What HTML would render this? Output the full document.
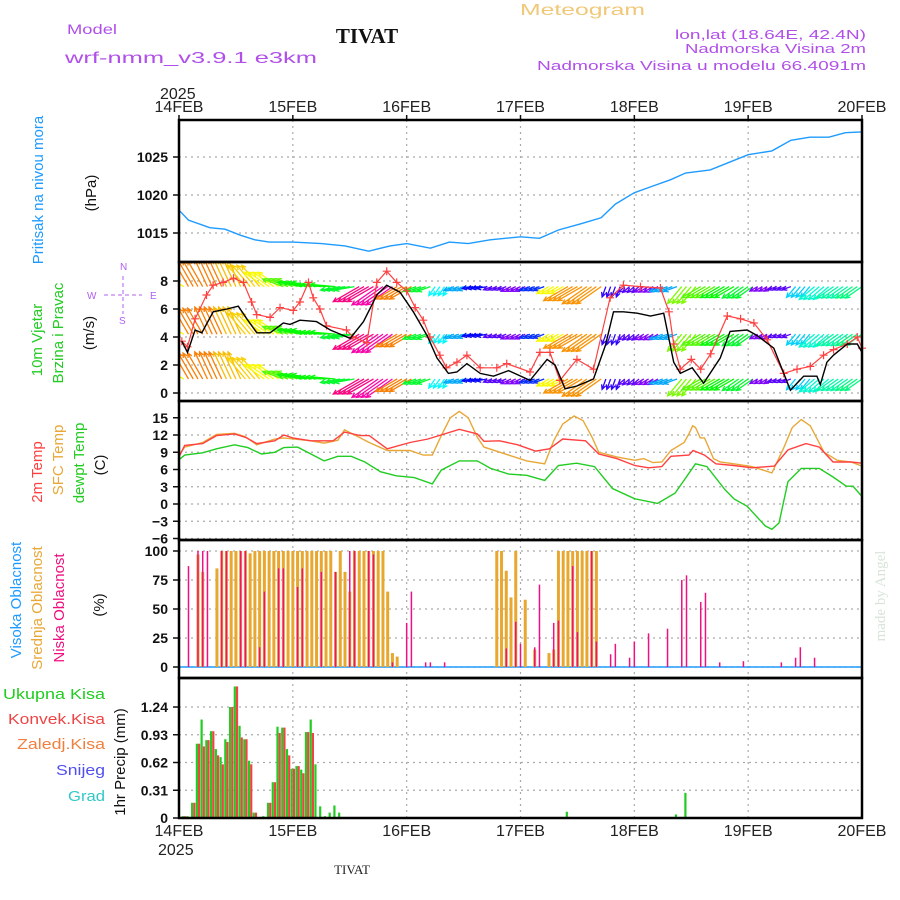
<!DOCTYPE html>
<html><head><meta charset="utf-8">
<style>
html,body{margin:0;padding:0;background:#fff;}
svg{display:block;font-family:"Liberation Sans",sans-serif;}
</style></head>
<body>
<svg id="chart" width="900" height="900" viewBox="0 0 900 900" xmlns="http://www.w3.org/2000/svg">
<rect width="900" height="900" fill="#fff"/>
<text x="520" y="15" font-size="16" fill="#f0c878" textLength="125" lengthAdjust="spacingAndGlyphs">Meteogram</text>
<text x="67" y="34" font-size="14" fill="#b050e8" textLength="50" lengthAdjust="spacingAndGlyphs">Model</text>
<text x="367" y="43" font-size="21" font-weight="bold" font-family="Liberation Serif,serif" fill="#111" text-anchor="middle">TIVAT</text>
<text x="65" y="63" font-size="16" fill="#b050e8" textLength="252" lengthAdjust="spacingAndGlyphs">wrf-nmm_v3.9.1 e3km</text>
<text x="675" y="39" font-size="13" fill="#b050e8" textLength="191" lengthAdjust="spacingAndGlyphs">lon,lat (18.64E, 42.4N)</text>
<text x="685" y="53" font-size="13" fill="#b050e8" textLength="181" lengthAdjust="spacingAndGlyphs">Nadmorska Visina 2m</text>
<text x="537" y="70" font-size="13" fill="#b050e8" textLength="329" lengthAdjust="spacingAndGlyphs">Nadmorska Visina u modelu 66.4091m</text>
<text x="160" y="99" font-size="16" fill="#222">2025</text>
<text x="158" y="855" font-size="16" fill="#222">2025</text>
<text x="352" y="874" font-size="13" font-family="Liberation Serif,serif" fill="#222" text-anchor="middle">TIVAT</text>
<text transform="translate(885,596) rotate(-90)" font-size="15" font-family="Liberation Serif,serif" fill="#d8e4d8" text-anchor="middle">made by Angel</text>

<g font-size="15">
<text transform="translate(43,190) rotate(-90)" fill="#1e9bff" text-anchor="middle">Pritisak na nivou mora</text>
<text transform="translate(96,193) rotate(-90)" fill="#111" text-anchor="middle">(hPa)</text>
<text transform="translate(42,340) rotate(-90)" fill="#22cc22" text-anchor="middle">10m Vjetar</text>
<text transform="translate(63,333) rotate(-90)" fill="#22cc22" text-anchor="middle">Brzina i Pravac</text>
<text transform="translate(94,333) rotate(-90)" fill="#111" text-anchor="middle">(m/s)</text>
<text transform="translate(42,472) rotate(-90)" fill="#ff4040" text-anchor="middle">2m Temp</text>
<text transform="translate(63,460) rotate(-90)" fill="#e8a838" text-anchor="middle">SFC Temp</text>
<text transform="translate(84,463) rotate(-90)" fill="#22cc22" text-anchor="middle">dewpt Temp</text>
<text transform="translate(105,465) rotate(-90)" fill="#111" text-anchor="middle">(C)</text>
<text transform="translate(21,600) rotate(-90)" fill="#1e9bff" text-anchor="middle">Visoka Oblacnost</text>
<text transform="translate(42,608) rotate(-90)" fill="#e8a838" text-anchor="middle">Srednja Oblacnost</text>
<text transform="translate(64,608) rotate(-90)" fill="#f01080" text-anchor="middle">Niska Oblacnost</text>
<text transform="translate(104,605) rotate(-90)" fill="#111" text-anchor="middle">(%)</text>
<text transform="translate(125,762) rotate(-90)" fill="#111" text-anchor="middle">1hr Precip (mm)</text>
<text x="3" y="699" fill="#22cc22" textLength="102" lengthAdjust="spacingAndGlyphs">Ukupna Kisa</text>
<text x="8" y="724" fill="#ee4444" textLength="97" lengthAdjust="spacingAndGlyphs">Konvek.Kisa</text>
<text x="17" y="749" fill="#f08040" textLength="88" lengthAdjust="spacingAndGlyphs">Zaledj.Kisa</text>
<text x="56" y="775" fill="#5050ee" textLength="49" lengthAdjust="spacingAndGlyphs">Snijeg</text>
<text x="68" y="801" fill="#30c8c8" textLength="37" lengthAdjust="spacingAndGlyphs">Grad</text>
</g>
<g fill="#b060f0" stroke="#b060f0" font-size="10">
<text x="87" y="299" stroke="none">W</text>
<text x="150" y="299" stroke="none">E</text>
<text x="120" y="270" stroke="none">N</text>
<text x="119" y="324" stroke="none">S</text>
<line x1="104" y1="295" x2="142" y2="295" stroke-dasharray="4,3"/>
<line x1="123" y1="276" x2="123" y2="314" stroke-dasharray="4,3"/>
</g>
<g id="plot"></g>
</svg>
<script>
// ---------- data ----------
const dayLabels = ["14FEB","15FEB","16FEB","17FEB","18FEB","19FEB","20FEB"];
const presTicks = [1015,1020,1025];
const windTicks = [0,2,4,6,8];
const tempTicks = [-6,-3,0,3,6,9,12,15];
const cloudTicks = [0,25,50,75,100];
const precTicks = [0,0.31,0.62,0.93,1.24];

const presH = [0,2,6.5,9.7,13,16,19,24,30,35,40,44.5,48,53,57,61,65.6,72,76,80,84.6,89,92,96,100,103.6,106.8,112,116,120,125,129,133,137,140.5,144];
const presV = [1018.0,1016.7,1015.7,1015.5,1014.7,1014.1,1013.8,1013.8,1013.6,1013.3,1012.6,1013.3,1013.6,1013.0,1013.8,1013.6,1014.1,1014.5,1014.3,1015.4,1016.2,1017.0,1018.8,1020.3,1021.2,1022.0,1022.9,1023.3,1024.3,1025.3,1025.8,1027.2,1027.6,1027.6,1028.2,1028.3];

const spdH = [0.6,1.8,3.4,4.8,7.2,10.1,12.5,14.3,16.4,19.2,22,23.4,25.5,29,31.9,36.1,38.9,41.7,43.8,46.6,49.4,52.3,54.4,56.8,58.6,60.7,63.5,66.3,69.5,74,77.6,79.3,81.4,83.9,87.4,89.9,91.6,93.7,96.6,99.4,102.2,104.3,105.7,108.2,110.6,114.1,116.2,119.8,121.9,125.4,128.9,131.7,134.5,135.2,136.6,138,140.9,143,144];
const spdV = [3.7,2.9,4.5,4.3,5.8,6.0,6.2,5.3,4.3,4.3,5.0,4.9,5.2,5.1,4.5,3.9,5.1,7.0,7.7,7.2,5.8,4.1,2.5,1.4,1.5,2.1,1.4,1.2,1.6,0.9,2.4,2.0,0.3,0.5,1.0,3.4,5.8,5.8,5.7,5.5,5.7,2.2,1.4,1.8,0.7,2.5,4.4,4.5,4.1,3.2,0.2,1.2,1.2,0.6,2.2,2.7,3.5,3.5,2.9];
const gustH = [0.6,1.8,3.4,5.8,7.2,9.3,11.5,13.6,15.3,16.4,19.2,21.3,24.1,25.5,27.3,28.3,29.7,31.1,35.3,36.7,39.6,41.7,43.8,45.9,48,49.8,51.5,52.9,55,56.4,58.6,60.7,63.5,67,69.1,74,76.1,78.2,80.3,83.9,87.4,90.9,93.7,97.3,101.5,103.3,104.3,105.7,108,110,112.1,115.6,118.4,121.2,124,127.5,130.3,133.1,135.9,138,140.9,143,144];
const gustV = [3.7,3.3,5.3,7.0,7.7,7.9,8.2,7.9,6.5,5.6,5.4,6.1,5.9,6.5,7.9,6.8,6.0,4.8,4.5,4.0,3.6,7.9,8.7,7.9,7.3,6.1,5.2,4.0,2.7,1.8,2.2,2.7,1.8,1.8,2.1,1.5,2.9,2.9,0.9,2.4,1.7,6.8,7.7,7.6,7.5,5.8,3.5,1.7,2.4,1.7,2.8,5.5,5.3,5.0,3.8,1.4,1.7,1.9,2.7,3.1,3.5,4.0,3.2];

const arrowH = [0,4,8,12,16,20,24,28,32,36,40,44,48,52,56,60,64,68,72,76,80,84,88,92,96,100,104,108,112,116,120,124,128,132,136,140,144];
const arrowAng = [150,120,115,115,130,145,160,170,175,190,210,215,210,200,235,200,190,200,205,200,210,210,215,250,220,210,200,230,210,210,215,210,200,230,220,215,215];
const arrowLen = [25,30,30,30,28,25,22,25,25,20,30,32,25,14,11,11,11,9,11,11,14,28,30,11,9,11,14,22,22,22,20,9,9,14,20,20,20];
const arrowHue = [60,30,30,45,50,60,100,120,120,130,330,320,30,130,180,200,240,260,270,230,60,35,35,250,260,270,200,90,100,120,130,270,260,190,170,160,150];
const arrowRows = [1.0,4.2,7.6];

const t2H = [0,1.2,5.0,7.9,11.7,14.0,16.4,20.2,22.1,24.0,27.8,32.5,34.9,38.2,40.1,43.9,48.7,52.5,59.1,62.9,64.3,67.6,71.4,75.2,78.1,80.9,85.7,88.5,92.3,96.1,99.0,101.8,103.7,107.5,108.4,110.8,113.2,117.0,120.8,125.5,128.4,132.2,135.0,137.9,141.7,144];
const t2V = [8.2,10.2,10.5,11.9,12.2,11.6,10.5,11.0,12.0,11.5,11.0,11.0,12.5,11.9,11.9,9.6,10.7,11.3,13.0,12.2,10.9,11.0,10.3,9.2,9.6,11.3,11.0,8.7,7.9,6.7,6.3,6.5,8.3,8.5,9.3,8.5,7.0,6.7,6.3,6.6,9.4,10.5,9.9,7.3,7.3,7.1];
const sfcH = [0,1.2,5.0,7.9,11.7,14.0,16.4,20.2,22.1,27.8,30.6,33.5,34.9,37.3,40.1,43.9,48.7,51.5,53.4,55.3,57.2,59.1,61.0,62.9,64.3,69.5,73.3,77.1,79.0,80.9,83.3,85.2,87.1,88.5,92.3,96.1,98.0,99.9,101.8,103.7,106.5,107.5,108.3,108.9,109.9,110.8,112.7,114.1,117.0,120.8,125.0,127.4,129.3,131.2,133.1,136.0,138.8,141.7,144];
const sfcV = [8.5,9.9,10.7,12.1,12.3,11.7,10.3,11.3,11.5,11.0,10.6,11.1,12.9,11.9,10.7,9.3,9.3,8.5,8.5,11.9,15.0,16.1,15.0,11.6,9.9,8.5,7.5,7.0,11.0,13.9,15.3,14.5,11.6,9.0,8.2,7.6,7.9,7.2,7.3,9.3,10.7,12.2,13.6,13.3,11.5,11.5,7.9,7.3,7.0,6.5,5.4,9.6,13.3,14.7,13.6,9.0,7.6,7.3,6.6];
const dewH = [0,1.2,5.0,7.9,11.7,14.5,17.4,20.2,22.1,25.0,27.8,30.6,33.5,36.3,39.2,42.5,45.8,49.6,53.4,55.3,59.1,62.9,65.7,69.5,73.3,77.1,80.0,83.8,87.6,91.4,96.1,100.9,104.6,108.9,111.3,115.1,117.0,119.8,123.6,125.0,126.5,128.4,131.2,135.0,137.9,140.7,142.1,144];
const dewV = [7.7,8.5,8.9,9.6,10.3,9.8,8.7,9.0,9.8,9.9,8.7,7.5,8.3,8.3,7.3,5.6,4.9,4.6,3.5,5.9,7.5,7.5,6.2,5.2,5.0,4.1,6.7,7.1,6.5,2.7,0.9,0.1,1.9,7.0,6.5,2.5,0.9,-0.4,-3.8,-4.4,-3.3,3.9,6.2,6.2,4.7,3.1,3.1,1.3];

const midH = [4,5,8,9,10,11,12,13,14,15,16,17,18,19,20,21,22,23,24,25,26,27,28,29,30,31,32,33,34,35,36,37,38,39,40,41,42,43,44,45,46,67,68,69,70,71,73,75,78,79,80,81,82,83,84,85,86,87,88];
const midV = [97,82,85,100,100,100,100,100,100,98,100,100,100,100,100,100,100,100,100,100,100,100,100,100,100,100,100,82,100,82,65,100,100,100,100,100,100,100,65,12,9,100,100,83,60,100,58,15,12,15,100,100,100,100,100,100,100,100,100];
const lowH = [2,4,5,6,9,10,13,14,17,18,21,22,25,26,30,33,36,37,40,41,45,48,49,52,53,56,69,71,72,75,76,79,80,83,84,87,88,91,92,95,96,99,103,106,107,110,111,114,119,127,130,131,134];
const lowV = [87,100,100,100,100,100,100,100,17,65,85,85,69,85,82,82,100,100,100,97,4,38,65,4,4,4,16,39,20,17,71,38,40,87,30,100,22,11,20,8,22,29,33,75,79,56,64,4,5,4,8,17,8];

const precH = [1,2,3,4,5,6,7,8,9,10,11,12,13,14,15,16,18,19,20,21,22,23,24,25,26,27,28,29,30,31,32,33,34,82,105,106,107,108];
const precTot = [0.02,0.02,0.17,0.83,1.1,0.87,0.97,0.77,0.68,0.88,1.24,1.47,1.03,0.88,0.64,0.06,0.02,0.17,0.4,1.02,1.01,0.77,0.55,0.58,0.54,0.96,1.1,0.6,0.13,0.02,0.06,0.14,0.06,0.07,0.04,0.01,0.28,0.01];
const precConv = [0.02,0,0.17,0.83,0.8,0.87,0.97,0.7,0.6,0.85,1.24,1.47,0.9,0.88,0.6,0.06,0,0.17,0.4,0.95,1.01,0.7,0.55,0.58,0.5,0.96,0.95,0,0,0,0,0,0,0,0,0,0,0];

// ---------- scales ----------
const X0=179, X1=862, HOURS=144;
const xs = h => X0 + h*(X1-X0)/HOURS;
const yP = v => 157 + (1025-v)*7.6;
const yW = v => 393 - v*14;
const yT = v => 504 - v*5.75;
const yC = v => 667 - v*1.16;
const yR = v => 818 - v*89.5;
const panels = [[120,262],[262,401],[401,540],[540,678],[678,818]];

const NS="http://www.w3.org/2000/svg";
const plot=document.getElementById('plot');
function mk(tag,attrs,parent){const e=document.createElementNS(NS,tag);for(const k in attrs)e.setAttribute(k,attrs[k]);(parent||plot).appendChild(e);return e;}
function path(H,V,fx,fy){return H.map((h,i)=>(i?'L':'M')+xs(h).toFixed(1)+','+fy(V[i]).toFixed(1)).join('');}

// grid
const grid=mk('g',{});


for(let d=1;d<6;d++){
  const l=mk('line',{x1:xs(d*24),x2:xs(d*24),y1:120,y2:818,stroke:'#aaa','stroke-dasharray':'2,4','stroke-width':1.2},grid);
  
  
}
function hgrid(ticks,fy,fmt){
  ticks.forEach(t=>{
    const l=mk('line',{x1:X0,x2:X1,y1:fy(t),y2:fy(t),stroke:'#aaa','stroke-dasharray':'2,4','stroke-width':1.2},grid);
    
    
    const tx=mk('text',{x:168,y:fy(t)+5,'font-size':14,'text-anchor':'end',fill:'#111','font-weight':'bold'});
    tx.textContent=fmt?fmt(t):String(t);
    
    
    const tk=mk('line',{x1:X0-6,x2:X0,y1:fy(t),y2:fy(t),stroke:'#111','stroke-width':1.5});
    
    
  });
}
hgrid(presTicks,yP);
hgrid(windTicks,yW);
hgrid(tempTicks,yT,t=>t<0?'\u2212'+(-t):String(t));
hgrid(cloudTicks,yC);
hgrid(precTicks,yR,t=>t===0?'0':t.toFixed(2));

// day labels
dayLabels.forEach((d,i)=>{
  [112,836].forEach(y=>{
    const t=mk('text',{x:xs(i*24),y:y,'font-size':16,'text-anchor':'middle',fill:'#222'});
    t.textContent=d;
    
    
  });
  const tk=mk('line',{x1:xs(i*24),x2:xs(i*24),y1:115,y2:120,stroke:'#111','stroke-width':1.5});
  
  
});

// pressure
const pl=mk('path',{d:path(presH,presV,xs,yP),fill:'none',stroke:'#1e9bff','stroke-width':1.4});



// wind arrows
const arrG=mk('g',{});


for(let h=0;h<=HOURS;h++){
  const i=Math.min(arrowH.length-1,Math.round(h/4));
  const a=arrowAng[i]*Math.PI/180, L=arrowLen[i], col='hsl('+arrowHue[i]+',95%,50%)';
  arrowRows.forEach(r=>{
    const x0=xs(h), y0=yW(r);
    const x1=x0+L*Math.cos(a), y1=y0-L*Math.sin(a);
    const hx1=x1-5*Math.cos(a-0.45), hy1=y1+5*Math.sin(a-0.45);
    const hx2=x1-5*Math.cos(a+0.45), hy2=y1+5*Math.sin(a+0.45);
    const ar=mk('path',{d:`M${x0},${y0}L${x1},${y1}M${hx1},${hy1}L${x1},${y1}L${hx2},${hy2}`,stroke:col,'stroke-width':1.3,fill:'none'},arrG);
    
    
  });
}
const clip=mk('clipPath',{id:'wclip'});
mk('rect',{x:X0,y:262,width:X1-X0,height:139},clip);
arrG.setAttribute('clip-path','url(#wclip)');

// gust & speed
const gl=mk('path',{d:path(gustH,gustV,xs,yW),fill:'none',stroke:'#ff4040','stroke-width':1.2});


gustH.forEach((h,i)=>{
  const x=xs(h),y=yW(gustV[i]);
  const m=mk('path',{d:`M${x-4},${y}h8M${x},${y-4}v8`,stroke:'#ff4040','stroke-width':1.2});
  
  
});
const sl=mk('path',{d:path(spdH,spdV,xs,yW),fill:'none',stroke:'#000','stroke-width':1.4});



// temperature
[[sfcH,sfcV,'#e8a838','sfc-temp-line'],[t2H,t2V,'#ff4040','temp-2m-line'],[dewH,dewV,'#22cc22','dewpoint-line']].forEach(s=>{
  const p=mk('path',{d:path(s[0],s[1],xs,yT),fill:'none',stroke:s[2],'stroke-width':1.4});
  
  
});

// cloud
const hl=mk('line',{x1:X0,x2:X1,y1:yC(0),y2:yC(0),stroke:'#1e9bff','stroke-width':1.5});


midH.forEach((h,i)=>{
  const r=mk('rect',{x:xs(h)-1.5,y:yC(midV[i]),width:3,height:yC(0)-yC(midV[i]),fill:'#e8a830'});
  
  
});
lowH.forEach((h,i)=>{
  const r=mk('rect',{x:xs(h)-0.75,y:yC(lowV[i]),width:1.5,height:yC(0)-yC(lowV[i]),fill:'#f01080'});
  
  
});

// precip
precH.forEach((h,i)=>{
  const g=mk('rect',{x:xs(h)-2.2,y:yR(precTot[i]),width:2.2,height:yR(0)-yR(precTot[i]),fill:'#22cc22'});
  
  
  if(precConv[i]>0){
    const r=mk('rect',{x:xs(h),y:yR(precConv[i]),width:2.2,height:yR(0)-yR(precConv[i]),fill:'#ee4444'});
    
    
  }
});

// panel frames
panels.forEach(p=>{
  const r=mk('rect',{x:X0,y:p[0],width:X1-X0,height:p[1]-p[0],fill:'none',stroke:'#000','stroke-width':2.5});
  
  
});
</script>
</body></html>
